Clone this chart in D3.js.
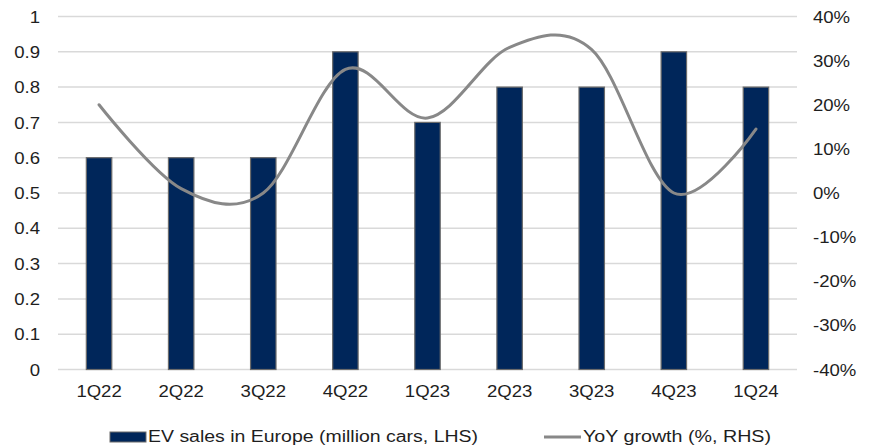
<!DOCTYPE html>
<html>
<head>
<meta charset="utf-8">
<script src="https://cdn.jsdelivr.net/npm/d3@7"></script>
<style>
  html, body { margin: 0; padding: 0; background: #fff; }
  svg { display: block; }
  text { font-family: Arial, "Liberation Sans", sans-serif; fill: #1e1e1e; }
</style>
</head>
<body>
<svg id="chart" width="872" height="448"></svg>
<script>
const categories = ["1Q22", "2Q22", "3Q22", "4Q22", "1Q23", "2Q23", "3Q23", "4Q23", "1Q24"];
const evSales = [0.6, 0.6, 0.6, 0.9, 0.7, 0.8, 0.8, 0.9, 0.8];
const yoyGrowth = [20, 1, 0, 28, 17, 33, 32.5, 0, 14.5];
const leftTicks = [0, 0.1, 0.2, 0.3, 0.4, 0.5, 0.6, 0.7, 0.8, 0.9, 1];
const rightTicks = [-40, -30, -20, -10, 0, 10, 20, 30, 40];
const legendLabels = ["EV sales in Europe (million cars, LHS)", "YoY growth (%, RHS)"];

const svg = d3.select("#chart");
const plot = { left: 58, right: 797, top: 16.5, bottom: 369.5 };
const FONT = 16, SX = 1.16;

const x = d3.scaleBand().domain(categories).range([plot.left, plot.right])
  .paddingInner(0.69).paddingOuter(0.345);
const yL = d3.scaleLinear().domain([0, 1]).range([plot.bottom, plot.top]);
const yR = d3.scaleLinear().domain([-40, 40]).range([plot.bottom, plot.top]);

function stretch(sel) {
  sel.each(function () {
    const t = d3.select(this);
    const tx = +t.attr("x") || 0;
    t.attr("transform", `translate(${tx},0) scale(${SX},1) translate(${-tx},0)`);
  });
}

// gridlines
svg.append("g").selectAll("line").data(leftTicks).join("line")
  .attr("x1", plot.left).attr("x2", plot.right)
  .attr("y1", d => yL(d)).attr("y2", d => yL(d))
  .attr("stroke", "#d9d9d9").attr("stroke-width", 1.5);

// left axis
const gL = svg.append("g").attr("transform", `translate(${plot.left},0)`)
  .call(d3.axisLeft(yL).tickValues(leftTicks).tickFormat(d3.format("~g")).tickSize(0).tickPadding(18));
gL.select(".domain").remove();
gL.selectAll("text").attr("font-size", FONT).attr("font-family", "Arial, 'Liberation Sans', sans-serif")
  .attr("fill", "#1e1e1e").attr("dy", "0.35em").call(stretch);

// right axis
const gR = svg.append("g").attr("transform", `translate(${plot.right},0)`)
  .call(d3.axisRight(yR).tickValues(rightTicks).tickFormat(d => d + "%").tickSize(0).tickPadding(16));
gR.select(".domain").remove();
gR.selectAll("text").attr("font-size", FONT).attr("font-family", "Arial, 'Liberation Sans', sans-serif")
  .attr("fill", "#1e1e1e").attr("dy", "0.35em").call(stretch);

// bottom axis labels
const gB = svg.append("g").attr("transform", `translate(0,${plot.bottom})`)
  .call(d3.axisBottom(x).tickSize(0).tickPadding(16));
gB.select(".domain").remove();
gB.selectAll("text").attr("font-size", FONT).attr("font-family", "Arial, 'Liberation Sans', sans-serif")
  .attr("fill", "#1e1e1e").call(stretch);

// bars
svg.append("g").selectAll("rect").data(evSales).join("rect")
  .attr("x", (d, i) => x(categories[i]))
  .attr("width", x.bandwidth())
  .attr("y", d => yL(d))
  .attr("height", d => yL(0) - yL(d))
  .attr("fill", "#00265a")
  .attr("stroke", "#6b6b6b").attr("stroke-width", 1.2);

// line
const line = d3.line()
  .x((d, i) => x(categories[i]) + x.bandwidth() / 2)
  .y(d => yR(d))
  .curve(d3.curveCardinal.tension(0));
svg.append("path").datum(yoyGrowth)
  .attr("d", line).attr("fill", "none")
  .attr("stroke", "#888888").attr("stroke-width", 3).attr("stroke-linecap", "round");

// legend
const lg = svg.append("g");
lg.append("rect").attr("x", 110).attr("y", 432).attr("width", 36).attr("height", 10)
  .attr("fill", "#00265a").attr("stroke", "#6b6b6b").attr("stroke-width", 1);
lg.append("text").attr("x", 148).attr("y", 442).attr("font-size", FONT)
  .attr("textLength", 330).attr("lengthAdjust", "spacingAndGlyphs").text(legendLabels[0]);
lg.append("line").attr("x1", 544).attr("x2", 581).attr("y1", 437).attr("y2", 437)
  .attr("stroke", "#888888").attr("stroke-width", 3);
lg.append("text").attr("x", 583).attr("y", 442).attr("font-size", FONT)
  .attr("textLength", 188).attr("lengthAdjust", "spacingAndGlyphs").text(legendLabels[1]);
</script>
</body>
</html>
